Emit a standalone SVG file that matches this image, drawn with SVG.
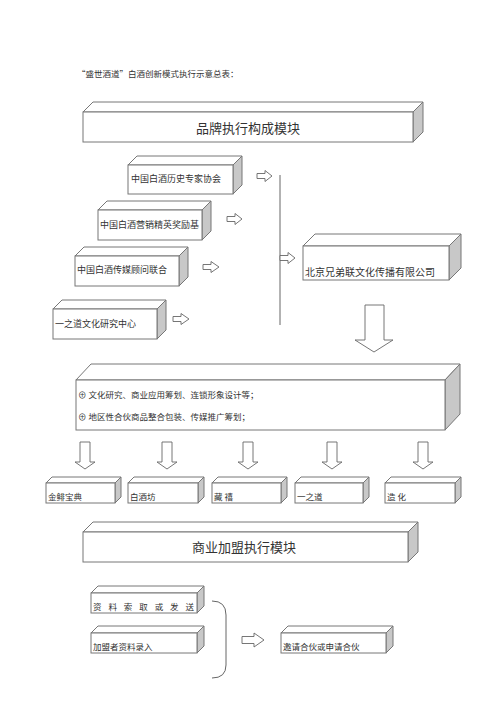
<svg xmlns="http://www.w3.org/2000/svg" width="500" height="707" viewBox="0 0 500 707">
<style>
.f{fill:#fff;stroke:#777;stroke-width:1}
.s{fill:#c8c8c8;stroke:#777;stroke-width:1}
.t{font-family:"Noto Sans CJK SC","Liberation Serif",serif;fill:#333}
.ar{fill:#fff;stroke:#666;stroke-width:0.9}
.ln{fill:none;stroke:#666;stroke-width:1}
</style>
<rect width="500" height="707" fill="#fff"/>
<text class="t" x="77" y="77" font-size="8.5">“盛世酒道”白酒创新模式执行示意总表：</text>

<g id="brand-module">
<polygon class="f" points="83,112 93,102 423,102 413,112"/>
<polygon class="s" points="413,112 423,102 423,132 413,142"/>
<rect class="f" x="83" y="112" width="330" height="30"/>
<text class="t" x="248" y="133" font-size="13" text-anchor="middle">品牌执行构成模块</text>
</g>

<g id="n1">
<polygon class="f" points="128,165 137,156 242,156 233,165"/>
<polygon class="s" points="233,165 242,156 242,185 233,194"/>
<rect class="f" x="128" y="165" width="105" height="29"/>
<text class="t" x="131" y="182" font-size="9">中国白酒历史专家协会</text>
</g>
<g id="n2">
<polygon class="f" points="98,210 107,201 211,201 202,210"/>
<polygon class="s" points="202,210 211,201 211,231 202,240"/>
<rect class="f" x="98" y="210" width="104" height="30"/>
<text class="t" x="100" y="228" font-size="9">中国白酒营销精英奖励基</text>
</g>
<g id="n3">
<polygon class="f" points="75,256 84,247 188,247 179,256"/>
<polygon class="s" points="179,256 188,247 188,277 179,286"/>
<rect class="f" x="75" y="256" width="104" height="30"/>
<text class="t" x="77" y="273" font-size="9">中国白酒传媒顾问联合</text>
</g>
<g id="n4">
<polygon class="f" points="53,309 62,300 166,300 157,309"/>
<polygon class="s" points="157,309 166,300 166,330 157,339"/>
<rect class="f" x="53" y="309" width="104" height="30"/>
<text class="t" x="55" y="327" font-size="9">一之道文化研究中心</text>
</g>

<g id="company">
<polygon class="f" points="303,246 315,234 461,234 449,246"/>
<polygon class="s" points="449,246 461,234 461,268 449,280"/>
<rect class="f" x="303" y="246" width="146" height="34"/>
<text class="t" x="305" y="276" font-size="10">北京兄弟联文化传播有限公司</text>
</g>

<g id="services">
<polygon class="f" points="76,380 91,364 460,364 445,380"/>
<polygon class="s" points="445,380 460,364 460,414 445,430"/>
<rect class="f" x="76" y="380" width="369" height="50"/>
<text class="t" x="78" y="398" font-size="8.5">⊕  文化研究、商业应用筹划、连锁形象设计等；</text>
<text class="t" x="78" y="420" font-size="8.5">⊕  地区性合伙商品整合包装、传媒推广筹划；</text>
</g>

<g id="p1">
<polygon class="f" points="46,483 52,477 121,477 115,483"/>
<polygon class="s" points="115,483 121,477 121,497 115,503"/>
<rect class="f" x="46" y="483" width="69" height="20"/>
<text class="t" x="48" y="500" font-size="8.5">金鲱宝典</text>
</g>
<g id="p2">
<polygon class="f" points="128,483 134,477 204,477 198,483"/>
<polygon class="s" points="198,483 204,477 204,497 198,503"/>
<rect class="f" x="128" y="483" width="70" height="20"/>
<text class="t" x="130" y="500" font-size="8.5">白酒坊</text>
</g>
<g id="p3">
<polygon class="f" points="212,483 218,477 287,477 281,483"/>
<polygon class="s" points="281,483 287,477 287,497 281,503"/>
<rect class="f" x="212" y="483" width="69" height="20"/>
<text class="t" x="214" y="500" font-size="8.5">藏  禧</text>
</g>
<g id="p4">
<polygon class="f" points="295,483 301,477 369,477 363,483"/>
<polygon class="s" points="363,483 369,477 369,497 363,503"/>
<rect class="f" x="295" y="483" width="68" height="20"/>
<text class="t" x="297" y="500" font-size="8.5">一之道</text>
</g>
<g id="p5">
<polygon class="f" points="385,483 391,477 461,477 455,483"/>
<polygon class="s" points="455,483 461,477 461,497 455,503"/>
<rect class="f" x="385" y="483" width="70" height="20"/>
<text class="t" x="387" y="500" font-size="8.5">造  化</text>
</g>

<g id="franchise-module">
<polygon class="f" points="83,532 93,522 418,522 408,532"/>
<polygon class="s" points="408,532 418,522 418,552 408,562"/>
<rect class="f" x="83" y="532" width="325" height="30"/>
<text class="t" x="244" y="552" font-size="13" text-anchor="middle">商业加盟执行模块</text>
</g>

<g id="fa">
<polygon class="f" points="91,593 98,586 204,586 197,593"/>
<polygon class="s" points="197,593 204,586 204,606 197,613"/>
<rect class="f" x="91" y="593" width="106" height="20"/>
<text class="t" x="93" y="610" font-size="8.5" textLength="101" lengthAdjust="spacing">资料索取或发送</text>
</g>
<g id="fb">
<polygon class="f" points="91,633 98,626 204,626 197,633"/>
<polygon class="s" points="197,633 204,626 204,646 197,653"/>
<rect class="f" x="91" y="633" width="106" height="20"/>
<text class="t" x="93" y="650" font-size="8.5">加盟者资料录入</text>
</g>
<g id="fc">
<polygon class="f" points="281,633 288,626 393,626 386,633"/>
<polygon class="s" points="386,633 393,626 393,646 386,653"/>
<rect class="f" x="281" y="633" width="105" height="20"/>
<text class="t" x="283" y="650" font-size="8.5">邀请合伙或申请合伙</text>
</g>

<g id="connectors">
<polygon class="ar" points="257,173.5 265,173.5 265,170.5 272,176 265,181.5 265,178.5 257,178.5"/>
<polygon class="ar" points="227,216.5 235,216.5 235,213.5 242,219 235,224.5 235,221.5 227,221.5"/>
<polygon class="ar" points="203,264.5 211,264.5 211,261.5 219,267 211,272.5 211,269.5 203,269.5"/>
<polygon class="ar" points="173,316.5 181,316.5 181,313.5 189,319 181,324.5 181,321.5 173,321.5"/>
<line class="ln" x1="280" y1="175" x2="280" y2="325"/>
<polygon class="ar" points="280,255.5 288,255.5 288,252.5 295,258 288,263.5 288,260.5 280,260.5"/>
<polygon class="ar" points="365,305 384,305 384,340 393,340 374,352 355,340 365,340"/>
<polygon class="ar" points="80,442 90,442 90,462 95,462 85,469 75,462 80,462"/>
<polygon class="ar" points="162,442 172,442 172,462 177,462 167,469 157,462 162,462"/>
<polygon class="ar" points="243,442 253,442 253,462 258,462 248,469 238,462 243,462"/>
<polygon class="ar" points="327,442 337,442 337,462 342,462 332,469 322,462 327,462"/>
<polygon class="ar" points="418,442 428,442 428,462 433,462 423,469 413,462 418,462"/>
<path class="ln" d="M212,601 Q226,601 226,615 L226,665 Q226,678 212,678"/>
<polygon class="ar" points="242,636.5 254,636.5 254,633 264,640 254,647 254,643.5 242,643.5"/>
</g>
</svg>
